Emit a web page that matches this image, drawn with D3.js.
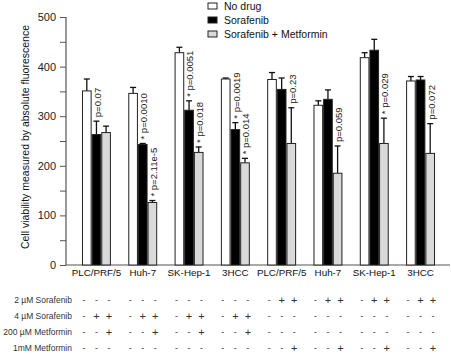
<!DOCTYPE html>
<html><head><meta charset="utf-8">
<script src="https://cdn.jsdelivr.net/npm/d3@7"></script>
<style>body{margin:0;background:#fff}svg{display:block}text{font-family:"Liberation Sans",Arial,sans-serif}</style>
</head><body><svg id="c" width="451" height="357"></svg>
<script>
const categories = ["PLC/PRF/5","Huh-7","SK-Hep-1","3HCC","PLC/PRF/5","Huh-7","SK-Hep-1","3HCC"];
const seriesNames = ["No drug","Sorafenib","Sorafenib + Metformin"];
const noDrug      = [351, 346, 428, 375, 374, 322, 418, 371];
const noDrugErr   = [24, 12, 11, 2, 14, 9, 10, 9];
const sorafenib   = [263, 243, 312, 273, 354, 334, 433, 373];
const sorafenibErr= [27, 2, 19, 14, 23, 19, 22, 7];
const sorMet      = [267, 126, 227, 206, 245, 185, 245, 225];
const sorMetErr   = [13, 4, 11, 9, 72, 55, 51, 60];
const yTicks = [0, 50, 100, 150, 200, 250, 300, 350, 400, 450, 500];
const yTickLabels = [0, 100, 200, 300, 400, 500];
// p-value annotations: group index, series index, text
const pGroup  = [0, 1, 1, 2, 2, 3, 3, 4, 5, 6, 7];
const pSeries = [1, 1, 2, 1, 2, 1, 2, 2, 2, 2, 2];
const pText   = ["p=0.07","* p=0.0010","* p=2.11e-5","* p=0.0051","* p=0.018","* p=0.0019","* p=0.014","p=0.23","p=0.059","* p=0.029","p=0.072"];
// treatment table
const rowLabels = ["2 \u00b5M Sorafenib","4 \u00b5M Sorafenib","200 \u00b5M Metformin","1mM Metformin"];
const rowSigns = [
  ["---","---","---","---","-++","-++","-++","-++"],
  ["-++","-++","-++","-++","---","---","---","---"],
  ["--+","--+","--+","--+","---","---","---","---"],
  ["---","---","---","---","--+","--+","--+","--+"]
];

const values = [noDrug, sorafenib, sorMet];
const errs = [noDrugErr, sorafenibErr, sorMetErr];
const fills = ["#ffffff","#000000","#d9d9d9"];

const svg = d3.select("#c");
const x0 = d3.scaleBand().domain(d3.range(categories.length)).range([66, 451]).paddingInner(0.375).paddingOuter(0.345);
const x1 = d3.scaleBand().domain(d3.range(3)).range([0, x0.bandwidth()]);
const y = d3.scaleLinear().domain([0, 500]).range([265, 17]);

// y axis
const yAxis = d3.axisLeft(y).tickValues(yTicks).tickSize(6).tickFormat(d => yTickLabels.includes(d) ? d : "");
const gy = svg.append("g").attr("transform","translate(66,0)").call(yAxis);
gy.select(".domain").attr("stroke","#555").attr("stroke-width",1.2).attr("d","M-6,17.5H0V265");
gy.selectAll(".tick line").attr("stroke","#555");
gy.selectAll(".tick text").attr("font-size",11).attr("fill","#222").attr("x",-10);

// x axis
const xAxis = d3.axisBottom(x0).tickSize(0).tickFormat(i => categories[i]);
const gx = svg.append("g").attr("transform","translate(0,265)").call(xAxis);
gx.select(".domain").attr("stroke","#555").attr("stroke-width",1.2).attr("d","M66,0H450");
gx.selectAll(".tick text").attr("font-size",9.8).attr("fill","#111").attr("dy","0.75em").attr("y",4);

// bars
const groups = svg.append("g").selectAll("g").data(categories).join("g")
  .attr("transform",(d,i)=>`translate(${x0(i)},0)`);
groups.each(function(c, gi){
  const g = d3.select(this);
  for (let s = 0; s < 3; s++) {
    const v = values[s][gi], e = errs[s][gi];
    const bx = x1(s), bw = x1.bandwidth(), cx = bx + bw/2;
    g.append("line").attr("x1",cx).attr("x2",cx).attr("y1",y(v)).attr("y2",y(v+e)).attr("stroke","#111").attr("stroke-width",1.3);
    g.append("line").attr("x1",cx-3).attr("x2",cx+3).attr("y1",y(v+e)).attr("y2",y(v+e)).attr("stroke","#111").attr("stroke-width",1.3);
    g.append("rect").attr("x",bx+0.5).attr("width",bw-1).attr("y",y(v)).attr("height",y(0)-y(v))
      .attr("fill",fills[s]).attr("stroke","#222").attr("stroke-width",1);
  }
});

// p-value annotations
pText.forEach((t, k) => {
  const gi = pGroup[k], s = pSeries[k];
  const cx = x0(gi) + x1(s) + x1.bandwidth()/2 + 1;
  const top = y(values[s][gi] + errs[s][gi]) - 4;
  svg.append("text").attr("transform",`translate(${cx},${top}) rotate(-90)`)
    .attr("dy","0.35em").attr("font-size",9.5).attr("fill","#222").text(t);
});

// legend
const leg = svg.append("g");
seriesNames.forEach((n, i) => {
  const ly = 6 + i*14;
  leg.append("rect").attr("x",208).attr("y",ly-3).attr("width",9).attr("height",6).attr("fill",fills[i]).attr("stroke","#222").attr("stroke-width",1);
  leg.append("text").attr("x",224).attr("y",ly).attr("dy","0.35em").attr("font-size",10.5).attr("fill","#111").text(n);
});

// y label
svg.append("text").attr("transform","translate(25,137) rotate(-90)").attr("text-anchor","middle")
  .attr("dy","0.35em").attr("font-size",10.5).attr("fill","#111").text("Cell viability measured by absolute fluorescence");

// treatment table
const rowY = [300, 316, 332, 348];
rowLabels.forEach((l, r) => {
  svg.append("text").attr("x",72).attr("y",rowY[r]).attr("dy","0.35em").attr("text-anchor","end")
    .attr("font-size",8.5).attr("fill","#333").text(l);
  rowSigns[r].forEach((sg, gi) => {
    const c = x0(gi) + x0.bandwidth()/2;
    sg.split("").forEach((ch, j) => {
      svg.append("text").attr("x", c + (j-1)*12.5).attr("y",rowY[r]).attr("dy","0.35em").attr("text-anchor","middle")
        .attr("font-size",ch === "+" ? 11 : 9).attr("fill","#333").text(ch);
    });
  });
});
</script></body></html>
